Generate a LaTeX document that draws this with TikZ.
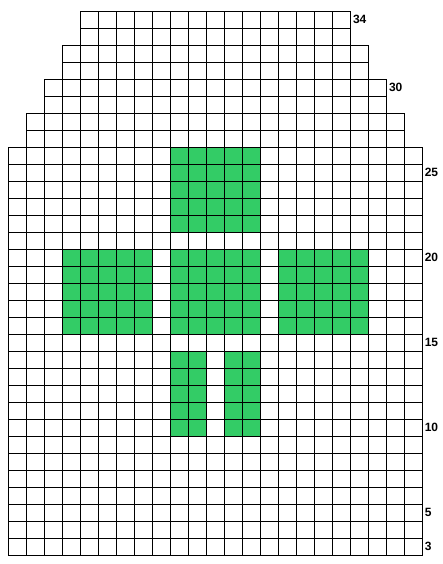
\documentclass[tikz,border=0pt]{standalone}
\usepackage{fontspec}
\setmainfont{Liberation Sans}
\definecolor{cellgreen}{RGB}{51,204,102}
\begin{document}
\begin{tikzpicture}[x=1pt,y=-1pt,
  cellbox/.style={draw=black,line width=1.1pt},
  greenfill/.style={fill=cellgreen},
  lbl/.style={anchor=west,font=\fontsize{12}{14}\selectfont\bfseries,inner sep=0pt}]
\useasboundingbox (0,0) rectangle (442,564);
\fill[white] (0,0) rectangle (442,564);
% green motifs (col0 left x=8.3, col width 18; row 34 top y=11.3, row height 17)
\foreach \ca/\cb/\ra/\rb in {9/13/26/22, 3/7/20/16, 9/13/20/16, 15/19/20/16, 9/10/14/10, 12/13/14/10}{
  \fill[greenfill] ({8.3+18*\ca},{11.3+(34-\ra)*17}) rectangle ({8.3+18*(\cb+1)},{11.3+(35-\rb)*17});
}
% grid
\foreach \r/\a/\b in {34/4/18,33/4/18,32/3/19,31/3/19,30/2/20,29/2/20,28/1/21,27/1/21}{
  \foreach \c in {\a,...,\b}{
    \draw[cellbox] ({8.3+18*\c},{11.3+(34-\r)*17}) rectangle ++(18,17);
  }
}
\foreach \r in {3,...,26}{
  \foreach \c in {0,...,22}{
    \draw[cellbox] ({8.3+18*\c},{11.3+(34-\r)*17}) rectangle ++(18,17);
  }
}
% row labels
\node[lbl] (l34) at (352.8,{11.3+0.5*17}) {34};
\node[lbl] (l30) at (388.8,{11.3+4.5*17}) {30};
\node[lbl] (l25) at (424.6,{11.3+9.5*17}) {25};
\node[lbl] (l20) at (424.6,{11.3+14.5*17}) {20};
\node[lbl] (l15) at (424.6,{11.3+19.5*17}) {15};
\node[lbl] (l10) at (424.6,{11.3+24.5*17}) {10};
\node[lbl] (l5) at (424.6,{11.3+29.5*17}) {5};
\node[lbl] (l3) at (424.6,{11.3+31.5*17}) {3};
\end{tikzpicture}
\end{document}
